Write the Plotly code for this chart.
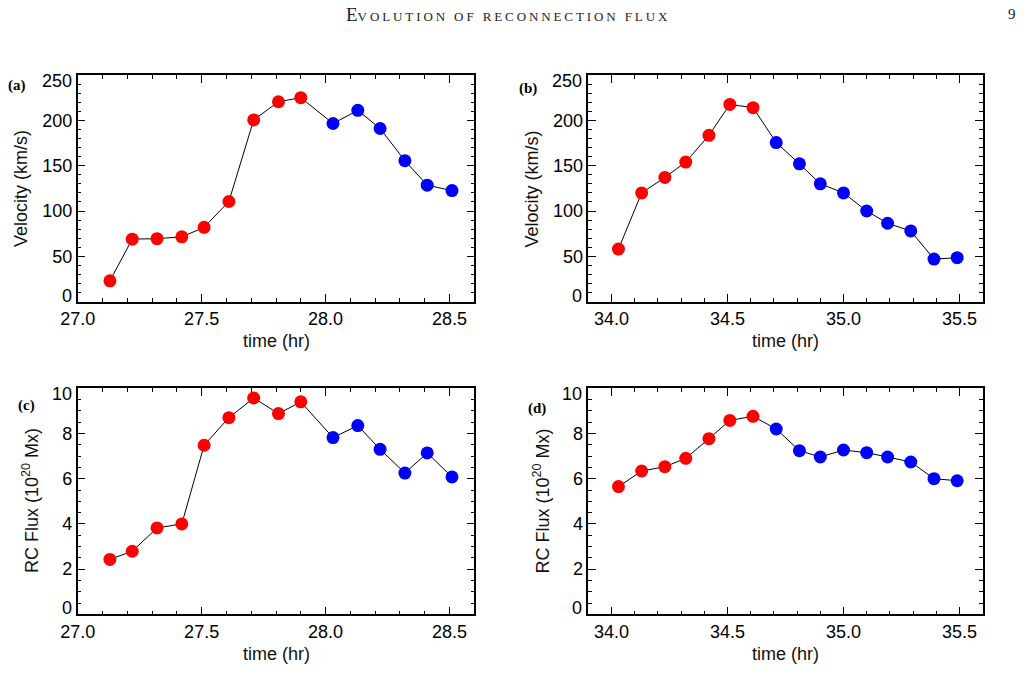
import plotly.graph_objects as go

W, H = 1026, 694

# ---------------- data ----------------
time_a = [27.13, 27.22, 27.32, 27.42, 27.51, 27.61, 27.71, 27.81, 27.90,
          28.03, 28.13, 28.22, 28.32, 28.41, 28.51]
vel_a = [23, 69, 69.5, 71.5, 82, 110.5, 200.5, 220.5, 225,
         196.5, 211, 191, 155.5, 128.5, 122.5]
flux_c = [2.43, 2.79, 3.82, 4.00, 7.48, 8.70, 9.57, 8.88, 9.40,
          7.82, 8.35, 7.30, 6.25, 7.14, 6.08]
n_red_ac = 9

time_b = [34.03, 34.13, 34.23, 34.32, 34.42, 34.51, 34.61, 34.71,
          34.81, 34.90, 35.00, 35.10, 35.19, 35.29, 35.39, 35.49]
vel_b = [58, 120, 137, 154, 183.5, 217.5, 214, 175.5,
         152, 130, 120, 100, 86.5, 78, 47, 48.5]
flux_d = [5.65, 6.34, 6.53, 6.90, 7.77, 8.58, 8.76, 8.20,
          7.24, 6.96, 7.27, 7.15, 6.96, 6.74, 6.00, 5.91]
n_red_bd = 7

xticks_a = [27.0, 27.5, 28.0, 28.5]
xticks_b = [34.0, 34.5, 35.0, 35.5]
yticks_v = [0, 50, 100, 150, 200, 250]
yticks_f = [0, 2, 4, 6, 8, 10]

# ---------------- layout helpers ----------------
def px(x):
    return x / W

def py(y):
    return 1 - y / H

LEFT_L, LEFT_R = 77.7, 474.3
RIGHT_L, RIGHT_R = 588.3, 982.7
TOP_T, TOP_B = 75.0, 301.7
BOT_T, BOT_B = 388.3, 614.3

fig = go.Figure()

panels = [
    (time_a, vel_a, n_red_ac, "x", "y"),
    (time_b, vel_b, n_red_bd, "x2", "y2"),
    (time_a, flux_c, n_red_ac, "x3", "y3"),
    (time_b, flux_d, n_red_bd, "x4", "y4"),
]
for t, v, nr, xa, ya in panels:
    fig.add_trace(go.Scatter(x=t, y=v, mode="lines", line=dict(color="black", width=1),
                             xaxis=xa, yaxis=ya, showlegend=False, hoverinfo="skip"))
    fig.add_trace(go.Scatter(x=t[:nr], y=v[:nr], mode="markers",
                             marker=dict(color="#ff0000", size=13, line=dict(width=0)),
                             xaxis=xa, yaxis=ya, showlegend=False))
    fig.add_trace(go.Scatter(x=t[nr:], y=v[nr:], mode="markers",
                             marker=dict(color="#0000ff", size=13, line=dict(width=0)),
                             xaxis=xa, yaxis=ya, showlegend=False))

tickfont = dict(family="Liberation Sans, Arial, sans-serif", size=18, color="black")

def xax(dom, rng, tv, anchor):
    return dict(domain=dom, range=rng, tickvals=tv, ticktext=[f"{v:.1f}" for v in tv],
                anchor=anchor, automargin=False,
                ticks="inside", ticklen=8, tickwidth=1.2, tickcolor="black",
                showline=True, linecolor="black", linewidth=1.5, mirror="allticks",
                showgrid=False, zeroline=False, tickfont=tickfont,
                minor=dict(dtick=0.1, tick0=27.0, ticks="inside", ticklen=4, tickwidth=1,
                           tickcolor="black", showgrid=False),
                fixedrange=True)

def yax(dom, rng, tv, minor_dt, anchor):
    # end labels are drawn separately (nudged inward, as in the original)
    txt = [""] + [str(v) for v in tv[1:-1]] + [""]
    return dict(domain=dom, range=rng, tickvals=tv, ticktext=txt,
                anchor=anchor, automargin=False,
                ticks="inside", ticklen=8, tickwidth=1.2, tickcolor="black",
                showline=True, linecolor="black", linewidth=1.5, mirror="allticks",
                showgrid=False, zeroline=False, tickfont=tickfont,
                minor=dict(dtick=minor_dt, tick0=0, ticks="inside", ticklen=4, tickwidth=1,
                           tickcolor="black", showgrid=False),
                fixedrange=True)

fig.update_layout(
    width=W, height=H, margin=dict(l=0, r=0, t=0, b=0, autoexpand=False),
    paper_bgcolor="white", plot_bgcolor="white",
    xaxis=xax([px(LEFT_L), px(LEFT_R)], [27.0, 28.6], xticks_a, "y"),
    yaxis=yax([py(TOP_B), py(TOP_T)], [0, 250], yticks_v, 10, "x"),
    xaxis2=xax([px(RIGHT_L), px(RIGHT_R)], [33.9, 35.6], xticks_b, "y2"),
    yaxis2=yax([py(TOP_B), py(TOP_T)], [0, 250], yticks_v, 10, "x2"),
    xaxis3=xax([px(LEFT_L), px(LEFT_R)], [27.0, 28.6], xticks_a, "y3"),
    yaxis3=yax([py(BOT_B), py(BOT_T)], [0, 10], yticks_f, 0.5, "x3"),
    xaxis4=xax([px(RIGHT_L), px(RIGHT_R)], [33.9, 35.6], xticks_b, "y4"),
    yaxis4=yax([py(BOT_B), py(BOT_T)], [0, 10], yticks_f, 0.5, "x4"),
)

titlefont = dict(family="Liberation Sans, Arial, sans-serif", size=18, color="#111")
serif = "Liberation Serif, Times New Roman, serif"

ann = []
def add(text, x, y, **kw):
    d = dict(text=text, x=px(x), y=py(y), xref="paper", yref="paper",
             showarrow=False, xanchor="center", yanchor="middle")
    d.update(kw)
    ann.append(d)

# end tick labels of the y axes, nudged inward from the frame corners
for yref, left, tv in [("y", LEFT_L, yticks_v), ("y2", RIGHT_L, yticks_v),
                       ("y3", LEFT_L, yticks_f), ("y4", RIGHT_L, yticks_f)]:
    for val, shift in [(tv[0], 6), (tv[-1], -6)]:
        ann.append(dict(text=str(val), x=px(left - 4), xref="paper", y=val, yref=yref,
                        xanchor="right", yanchor="middle", yshift=shift,
                        showarrow=False, font=tickfont))

# x-axis titles
for cx in [(LEFT_L + LEFT_R) / 2, (RIGHT_L + RIGHT_R) / 2]:
    add("time (hr)", cx, 341, font=titlefont)
    add("time (hr)", cx, 653.5, font=titlefont)
# y-axis titles
add("Velocity (km/s)", 21, 189, font=titlefont, textangle=-90)
add("Velocity (km/s)", 531.5, 189, font=titlefont, textangle=-90)
add("RC Flux (10<sup>20</sup> Mx)", 30, 501, font=titlefont, textangle=-90)
add("RC Flux (10<sup>20</sup> Mx)", 541.5, 501, font=titlefont, textangle=-90)
# panel labels
pl = dict(family=serif, size=15, color="black")
add("<b>(a)</b>", 17, 85, font=pl)
add("<b>(b)</b>", 528, 88, font=pl)
add("<b>(c)</b>", 26, 405, font=pl)
add("<b>(d)</b>", 537, 408, font=pl)
# page header
add("E<span style='font-size:13px;letter-spacing:2.9px'>VOLUTION OF RECONNECTION FLUX</span>",
    508, 14, font=dict(family=serif, size=19, color="#222"))
add("9", 1012, 14, font=dict(family=serif, size=15, color="#222"))

fig.update_layout(annotations=ann)
fig.write_html("out.html")
